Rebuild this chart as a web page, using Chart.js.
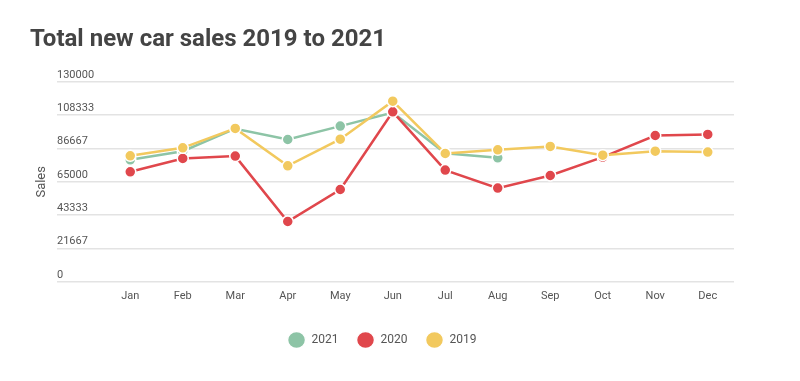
<!DOCTYPE html>
<html>
<head>
<meta charset="utf-8">
<script src="https://cdn.jsdelivr.net/npm/chart.js@4"></script>
<style>
  html, body { margin: 0; padding: 0; background: #fff; }
  #wrap { width: 800px; height: 381px; position: relative; }
</style>
</head>
<body>
<div id="wrap"><canvas id="c"></canvas></div>
<script>
const months = ['Jan','Feb','Mar','Apr','May','Jun','Jul','Aug','Sep','Oct','Nov','Dec'];
const sales2021 = [79300, 84900, 99500, 92500, 101200, 110000, 83600, 80600, null, null, null, null];
const sales2020 = [71500, 80200, 81700, 39200, 60000, 110500, 72600, 60900, 69100, 81000, 95100, 95800];
const sales2019 = [81900, 87100, 99700, 75400, 92700, 117400, 83400, 85800, 88000, 82300, 84900, 84300];
const yTicks = [0, 21667, 43333, 65000, 86667, 108333, 130000];
const seriesNames = ['2021', '2020', '2019'];
const colors = ['#8DC4A6', '#E0474C', '#F2C95E'];

const seriesData = [sales2021, sales2020, sales2019];
const drawOrder = [3, 2, 1];

const datasets = seriesData.map((d, i) => ({
  label: seriesNames[i],
  data: d,
  order: drawOrder[i],
  borderColor: colors[i],
  backgroundColor: colors[i],
  pointBackgroundColor: colors[i],
  pointBorderColor: '#ffffff',
  pointBorderWidth: 1.5,
  pointRadius: 5.5,
  borderWidth: 2.5,
  tension: 0,
  spanGaps: false
}));

new Chart(document.getElementById('c'), {
  type: 'line',
  data: { labels: months, datasets },
  options: {
    responsive: true,
    maintainAspectRatio: false,
    animation: false,
    layout: { padding: { left: 30, right: 66, top: 20, bottom: 25 } },
    plugins: {
      title: {
        display: true,
        text: 'Total new car sales 2019 to 2021',
        align: 'start',
        color: '#444444',
        font: { family: 'Roboto', size: 24, weight: 'bold' },
        padding: { top: 6, bottom: 27 }
      },
      legend: {
        position: 'bottom',
        labels: {
          usePointStyle: true,
          pointStyle: 'circle',
          pointStyleWidth: 18,
          color: '#555555',
          font: { family: 'Roboto', size: 12 },
          padding: 18,
          sort: (a, b) => a.datasetIndex - b.datasetIndex
        }
      },
      tooltip: { enabled: false }
    },
    scales: {
      x: {
        offset: true,
        grid: { display: false, drawTicks: false },
        border: { display: false },
        afterFit: (scale) => { scale.height += 5; },
        ticks: { color: '#555555', font: { family: 'Roboto', size: 11 }, padding: 8 }
      },
      y: {
        min: 0,
        max: 130000,
        afterBuildTicks: (scale) => { scale.ticks = yTicks.map(v => ({ value: v })); },
        afterFit: (scale) => { scale.width = 74; },
        grid: { color: '#e3e3e3', lineWidth: 1.5, drawTicks: true, tickLength: 47 },
        border: { display: false },
        ticks: {
          mirror: true,
          padding: -47,
          labelOffset: -7,
          color: '#555555',
          font: { family: 'Roboto', size: 11 },
          callback: (v) => String(v)
        },
        title: {
          display: true,
          text: 'Sales',
          color: '#555555',
          font: { family: 'Roboto', size: 13 },
          padding: { top: 4, bottom: 4 }
        }
      }
    }
  }
});
</script>
</body>
</html>
